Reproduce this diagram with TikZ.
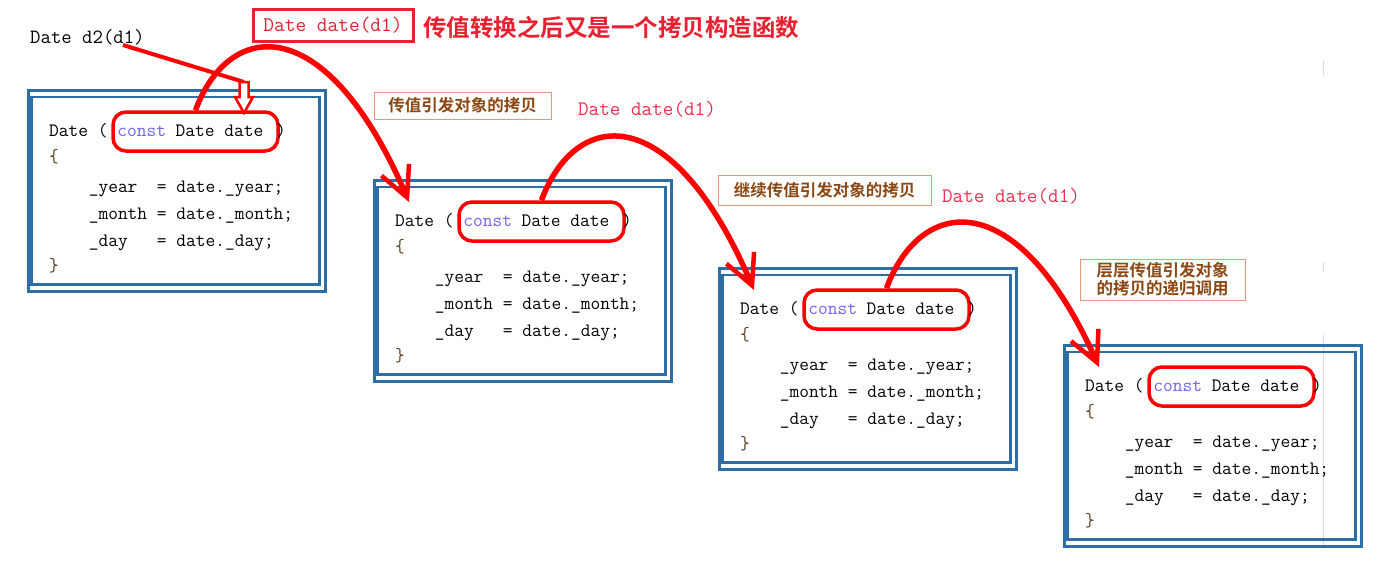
\documentclass[tikz,border=0pt]{standalone}
\usepackage{fontspec}
\newfontfamily\cjk{Noto Sans CJK SC}[BoldFont={Noto Sans CJK SC Bold}]
\usetikzlibrary{arrows.meta,calc}
\definecolor{boxblue}{RGB}{46,110,166}
\definecolor{arrred}{RGB}{255,0,0}
\definecolor{lblred}{RGB}{232,32,48}
\definecolor{pinkred}{RGB}{240,48,80}
\definecolor{kwblue}{RGB}{110,100,240}
\definecolor{lblbrown}{RGB}{140,72,20}
\definecolor{lblborder}{RGB}{232,150,120}
\definecolor{bracec}{RGB}{90,60,30}
\tikzset{
  bluebox/.style={draw=boxblue, line width=2.5pt, inner sep=0pt},
  code/.style={font=\fontsize{18.9}{20}\selectfont\ttfamily, inner sep=0pt, anchor=base west},
  oval/.style={draw=arrred, line width=3.5pt, rounded corners=13pt, minimum width=165pt, minimum height=39pt, inner sep=0pt},
  bigarrow/.style={draw=arrred, line width=5.5pt, -{Straight Barb[length=30pt,width=30pt,line width=4.5pt]}},
  lbl/.style={draw=lblborder, line width=1pt, text=lblbrown, inner sep=0pt, font=\cjk\bfseries\fontsize{16.5}{19}\selectfont, align=center},
  dlabel/.style={font=\fontsize{20.6}{22}\selectfont\ttfamily, text=pinkred, inner sep=0pt},
}
\newcommand\codeblock[3]{%
  \begin{scope}[shift={(#2,#3)}]
    \node[bluebox, anchor=north west, minimum width=297pt, minimum height=201pt] (#1) at (0,0) {};
    \draw[bluebox] (4.5,8) rectangle (292.5,195.5);
    \node[oval] (#1o) at (168.5,42.5) {};
    \node[code] (#1l1) at (22,47) {Date ( \textcolor{kwblue}{const} Date date \kern3pt)};
    \node[code, text=bracec] (#1l2) at (22,73) {\{};
    \node[code] (#1l3) at (61.6,103) {\_year~~= date.\_year;};
    \node[code] (#1l4) at (61.6,130) {\_month = date.\_month;};
    \node[code] (#1l5) at (61.6,157) {\_day~~~= date.\_day;};
    \node[code, text=bracec] (#1l6) at (22,182) {\}};
    \coordinate (#1in) at (36,23);
  \end{scope}}
\begin{document}
\begin{tikzpicture}[x=1pt,y=-1pt]
\useasboundingbox[fill=white] (0,0) rectangle (1389,565);
% faint screenshot lines
\draw[black!15, line width=1pt] (1323,60) -- (1323,75);
\draw[black!15, line width=1pt] (1323,262) -- (1323,272);
\draw[black!15, line width=1pt] (1323,335) -- (1323,545);

\codeblock{b1}{27}{89}
\codeblock{b2}{373}{179}
\codeblock{b3}{718}{267}
\codeblock{b4}{1063}{344}

% labels
\node[font=\fontsize{20.2}{22}\selectfont\ttfamily, anchor=base west, inner sep=0pt] (d2) at (30,43) {Date d2(d1)};
\node[draw=lblred, line width=3pt, minimum width=160pt, minimum height=32pt, inner sep=0pt, text=lblred, font=\fontsize{20.8}{22}\selectfont\ttfamily] (dd0) at (333,25) {Date date(d1)};
\node[anchor=west, inner sep=0pt, text=lblred, font=\cjk\bfseries\fontsize{23.5}{26}\selectfont] (title) at (423,27) {传值转换之后又是一个拷贝构造函数};
\node[dlabel] (dd1) at (647,109) {Date date(d1)};
\node[dlabel] (dd2) at (1011,196) {Date date(d1)};
\node[lbl, minimum width=177pt, minimum height=27pt] (t1) at (462.5,105.5) {传值引发对象的拷贝};
\node[lbl, minimum width=213pt, minimum height=30pt] (t2) at (824.5,190) {继续传值引发对象的拷贝};
\node[lbl, minimum width=165pt, minimum height=41pt, font=\cjk\bfseries\fontsize{16.5}{18}\selectfont] (t3) at (1162.5,279.5) {层层传值引发对象\\的拷贝的递归调用};

% curved arrows
\draw[bigarrow] (b1o.north) .. controls +(34,-92) and +(-82,-192) .. (b2in);
\draw[bigarrow] (b2o.north) .. controls +(34,-92) and +(-82,-192) .. (b3in);
\draw[bigarrow] (b3o.north) .. controls +(34,-92) and +(-82,-184) .. (b4in);

% arrow from Date d2(d1)
\coordinate (d2s) at ($(d2.base west)+(93,2)$);
\coordinate (btop) at (244,82);
\draw[arrred, line width=4pt] (d2s) -- (btop);
\draw[arrred, line width=2.5pt, fill=white, line join=miter] (239.5,82) -- (248.5,82) -- (248.5,97) -- (253,97) -- (244,113) -- (235,97) -- (239.5,97) -- cycle;
\end{tikzpicture}
\end{document}
